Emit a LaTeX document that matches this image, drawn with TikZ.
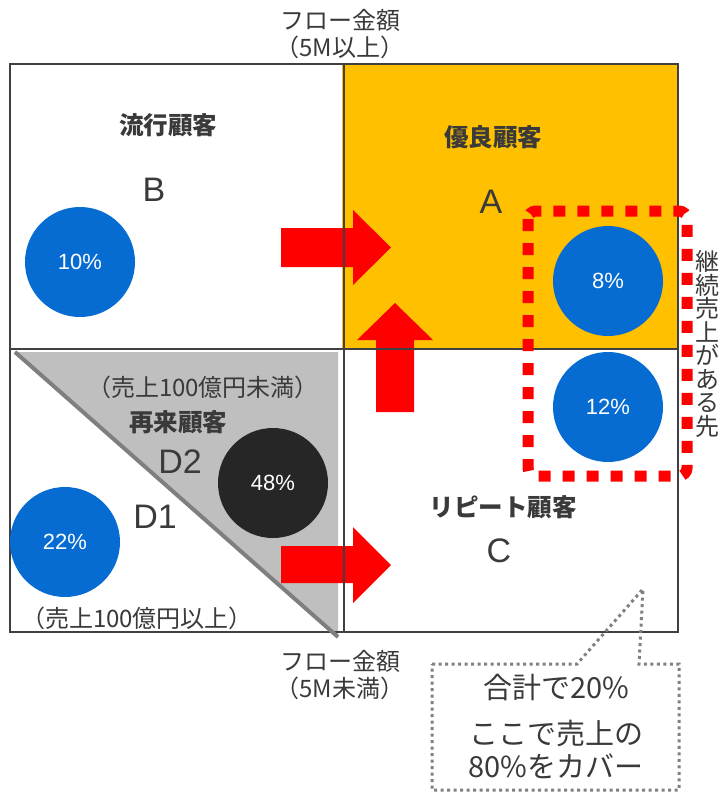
\documentclass[tikz,border=0pt]{standalone}
\usepackage{fontspec}
\setmainfont{Liberation Sans}
\newfontfamily\jp{Noto Sans CJK JP}
\definecolor{ln}{HTML}{404040}
\definecolor{txt}{HTML}{3A3A3A}
\definecolor{orng}{HTML}{FFC000}
\definecolor{blu}{HTML}{066CD2}
\definecolor{dk}{HTML}{262626}
\definecolor{tri}{HTML}{BFBFBF}
\definecolor{diag}{HTML}{7F7F7F}
\definecolor{callg}{HTML}{808080}
\begin{document}
\begin{tikzpicture}[x=1pt,y=-1pt,
  gridline/.style={ln, line width=2.5},
  pct/.style={circle, fill=blu, minimum size=110, inner sep=0, text=white, font=\fontsize{22}{26}\selectfont},
  bigletter/.style={text=txt, inner sep=0, font=\fontsize{34}{40}\selectfont},
  catlabel/.style={text=txt, inner sep=0, font=\jp\bfseries\fontsize{24.5}{28}\selectfont},
  note/.style={text=txt, inner sep=0, font=\jp\fontsize{24}{28}\selectfont},
  blockarrow/.style={fill=red},
]
\useasboundingbox (0,0) rectangle (723,793);
\fill[white] (0,0) rectangle (723,793);
% fills
\fill[orng] (342,64) rectangle (678,348);
\fill[tri] (15,352) -- (338,352) -- (338,636) -- cycle;
% block arrows
\fill[blockarrow] (281,228) -- (353,228) -- (353,210) -- (391,247.5) -- (353,285) -- (353,267) -- (281,267) -- cycle;
\fill[blockarrow] (376,412) -- (376,340) -- (357,340) -- (395,303) -- (433,340) -- (414,340) -- (414,412) -- cycle;
\fill[blockarrow] (281,546) -- (353,546) -- (353,527) -- (391,565) -- (353,603) -- (353,583) -- (281,583) -- cycle;
% grid
\draw[gridline] (10,64) rectangle (678,632);
\draw[gridline] (344,64) -- (344,632);
\draw[gridline] (10,349) -- (678,349);
\draw[diag, line width=4] (15,352) -- (338,637);
% circles
\node[pct] (c10) at (80,262) {10\%};
\node[pct] (c8) at (608,281) {8\%};
\node[pct] (c12) at (608,407) {12\%};
\node[pct] (c22) at (65,542) {22\%};
\node[pct, fill=dk] (c48) at (273,483) {48\%};
% red dotted region
\draw[red, line width=11, dash pattern=on 12 off 12, rounded corners=8] (528,211) rectangle (687,476);
% labels
\node[catlabel] (lb) at (168,125) {流行顧客};
\node[bigletter] (B) at (154,190) {B};
\node[catlabel] (la) at (493,137) {優良顧客};
\node[bigletter] (A) at (491,202) {A};
\node[catlabel] (lc) at (503,507) {リピート顧客};
\node[bigletter] (C) at (499,551) {C};
\node[catlabel] (ld) at (178,422) {再来顧客};
\node[bigletter] (D2) at (180,462) {D2};
\node[bigletter] (D1) at (155,517) {D1};
\node[note] (under) at (203,387) {（売上100億円未満）};
\node[note] (over) at (137,618) {（売上100億円以上）};
\node[note, align=center, font=\jp\fontsize{24}{27}\selectfont] (ftop) at (340,34) {フロー金額\\（5M以上）};
\node[note, align=center, font=\jp\fontsize{24}{27}\selectfont] (fbot) at (340,675) {フロー金額\\（5M未満）};
\node[note, align=center, font=\jp\fontsize{24}{23.5}\selectfont] (vert) at (707,344) {継\\続\\売\\上\\が\\あ\\る\\先};
% callout
\draw[callg, line width=3, dash pattern=on 3 off 3.5] (432,664) -- (577,664) -- (643,589) -- (639,664) -- (679,664) -- (679,790) -- (432,790) -- cycle;
\node[note, font=\jp\fontsize{29}{34}\selectfont] (call1) at (556,688) {合計で20\%};
\node[note, align=center, font=\jp\fontsize{29}{33}\selectfont] (call2) at (556,749) {ここで売上の\\80\%をカバー};
\end{tikzpicture}
\end{document}
